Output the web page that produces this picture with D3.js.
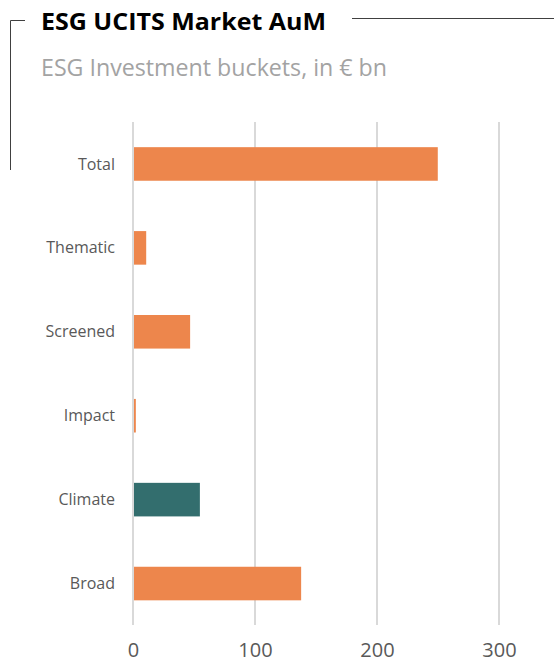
<!DOCTYPE html>
<html>
<head>
<meta charset="utf-8">
<script src="https://cdn.jsdelivr.net/npm/d3@7"></script>
<style>
  html, body { margin: 0; padding: 0; background: #fff; }
  svg { display: block; }
</style>
</head>
<body>
<svg id="chart" width="554" height="667"></svg>
<script>
// ESG investment buckets, in € bn
const categories = ["Total", "Thematic", "Screened", "Impact", "Climate", "Broad"];
const values = [249, 10, 46, 1.5, 54, 137];
const highlight = ["Climate"];
const tickValues = [0, 100, 200, 300];

const svg = d3.select("#chart");
const W = 554, H = 667;
const margin = { left: 133, right: 55, top: 122, bottom: 42 };

const x = d3.scaleLinear()
  .domain([0, 300])
  .range([margin.left, margin.left + 366]);

const y = d3.scaleBand()
  .domain(categories)
  .range([margin.top, H - margin.bottom + 0.5])
  .paddingInner(0.6)
  .paddingOuter(0.3);

const font = "'Open Sans', sans-serif";

// frame bracket around the title
svg.append("path")
  .attr("d", "M10.5,170 V20.5 H25")
  .attr("fill", "none").attr("stroke", "#404040").attr("stroke-width", 1);
svg.append("line")
  .attr("x1", 352).attr("x2", W).attr("y1", 18.5).attr("y2", 18.5)
  .attr("stroke", "#404040").attr("stroke-width", 1);

// titles
svg.append("text")
  .attr("x", 41).attr("y", 30)
  .attr("font-family", font).attr("font-weight", 700)
  .attr("font-size", 24).attr("fill", "#000")
  .attr("textLength", 285).attr("lengthAdjust", "spacingAndGlyphs")
  .text("ESG UCITS Market AuM");

svg.append("text")
  .attr("x", 41).attr("y", 76)
  .attr("font-family", font)
  .attr("font-size", 23).attr("fill", "#a3a3a3")
  .attr("textLength", 346).attr("lengthAdjust", "spacingAndGlyphs")
  .text("ESG Investment buckets, in € bn");

// vertical gridlines
svg.append("g")
  .selectAll("line")
  .data(tickValues)
  .join("line")
  .attr("x1", d => x(d)).attr("x2", d => x(d))
  .attr("y1", margin.top).attr("y2", 625)
  .attr("stroke", "#d9d9d9").attr("stroke-width", 2);

// bars
svg.append("g")
  .selectAll("rect")
  .data(categories.map((c, i) => ({ c, v: values[i] })))
  .join("rect")
  .attr("x", x(0) + 1)
  .attr("y", d => y(d.c))
  .attr("width", d => x(d.v) - x(0))
  .attr("height", y.bandwidth())
  .attr("fill", d => highlight.includes(d.c) ? "#336e6e" : "#ed864c");

// category labels
svg.append("g")
  .selectAll("text")
  .data(categories)
  .join("text")
  .attr("x", 115)
  .attr("y", d => y(d) + y.bandwidth() / 2)
  .attr("dy", "0.35em")
  .attr("text-anchor", "end")
  .attr("font-family", font).attr("font-size", 16)
  .attr("fill", "#595959")
  .text(d => d);

// value axis labels
const xAxis = d3.axisBottom(x).tickValues(tickValues).tickSize(0).tickPadding(0);
const gx = svg.append("g")
  .attr("transform", `translate(0,${657})`)
  .call(xAxis);
gx.select(".domain").remove();
gx.selectAll("text")
  .attr("dy", 0)
  .attr("y", 0)
  .attr("font-family", font).attr("font-size", 20)
  .attr("fill", "#595959");
</script>
</body>
</html>
